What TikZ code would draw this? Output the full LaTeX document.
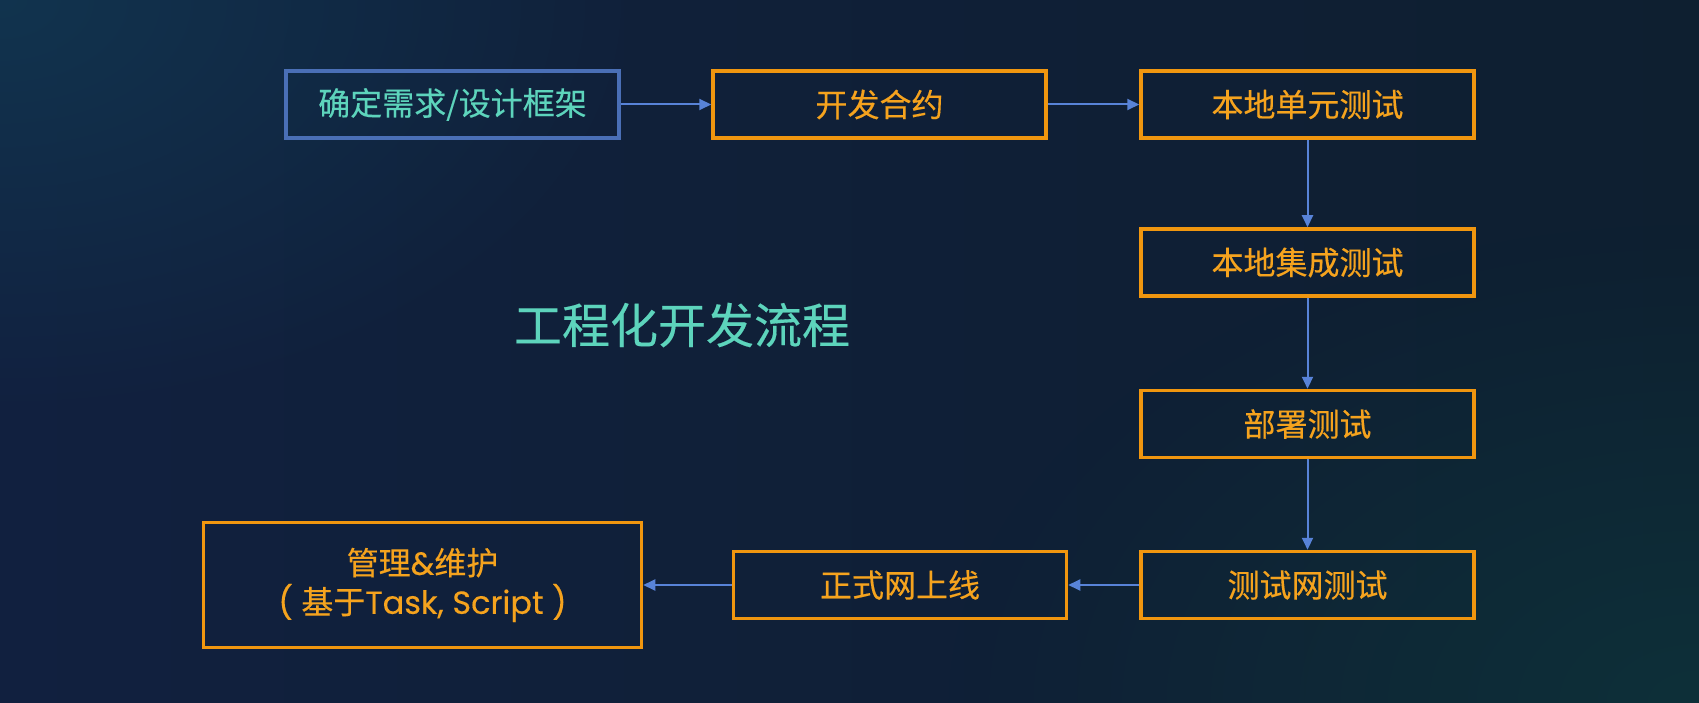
\documentclass[tikz,border=0pt]{standalone}
\usepackage{fontspec}
\setmainfont{Poppins}
\newfontfamily\cjk[FakeBold=0.3]{Noto Sans CJK SC}
\newfontfamily\lat[FakeBold=0.3]{Poppins}
\usetikzlibrary{arrows.meta,fadings}
\tikzfading[name=glow, inner color=transparent!0, outer color=transparent!100]
\definecolor{bgL}{HTML}{11203F}
\definecolor{bgM}{HTML}{121A33}
\definecolor{bgR}{HTML}{0E1F30}
\definecolor{glowTL}{HTML}{113650}
\definecolor{glowBR}{HTML}{0D323A}
\definecolor{boxorange}{HTML}{F0960F}
\definecolor{textorange}{HTML}{F5A31E}
\definecolor{boxblue}{HTML}{4A6FB6}
\definecolor{textteal}{HTML}{5DD4BC}
\definecolor{arrowblue}{HTML}{5883D8}

\begin{document}
\begin{tikzpicture}[x=1pt,y=-1pt,
	stepbox/.style={draw=boxorange, line width=3.5pt, text=textorange, minimum width=333pt, minimum height=67pt, inner sep=0pt, align=center, font=\cjk\fontsize{32}{39}\selectfont},
	flow/.style={draw=arrowblue, line width=2pt, -{Triangle[length=12pt,width=11pt]}}]
		% Background
		\useasboundingbox (0,0) rectangle (1699,703);
		\shade[left color=bgL, middle color=bgM, right color=bgR] (0,0) rectangle (1699,703);
		\fill[glowTL, path fading=glow, opacity=0.9] (0,0) ellipse [x radius=650, y radius=420];
		\fill[glowBR, path fading=glow, opacity=0.9] (1699,703) ellipse [x radius=750, y radius=480];

		% Title
		\node[text=textteal, font=\cjk\fontsize{48}{56}\selectfont] (title) at (682,325) {工程化开发流程};

		% Steps
		\node[stepbox, draw=boxblue, text=textteal] (need) at (452.5,104.5) {确定需求/设计框架};
		\node[stepbox] (dev) at (879.5,104.5) {开发合约};
		\foreach \name/\y/\txt in {unit/104.5/本地单元测试, integ/262.5/本地集成测试, deploy/424/部署测试, testnet/585/测试网测试}
			\node[stepbox] (\name) at (1307.5,\y) {\txt};
		\node[stepbox] (mainnet) at (900,585) {正式网上线};
		\node[stepbox, minimum width=438pt, minimum height=125pt] (maint) at (422.5,585)
			{管理{\lat\&}维护\\{\lat( }基于{\lat Task, Script )}};

		% Arrows
		\draw[flow] (need) -- (dev);
		\draw[flow] (dev) -- (unit);
		\draw[flow] (unit) -- (integ);
		\draw[flow] (integ) -- (deploy);
		\draw[flow] (deploy) -- (testnet);
		\draw[flow] (testnet) -- (mainnet);
		\draw[flow] (mainnet) -- (maint);
	\end{tikzpicture}
\end{document}
